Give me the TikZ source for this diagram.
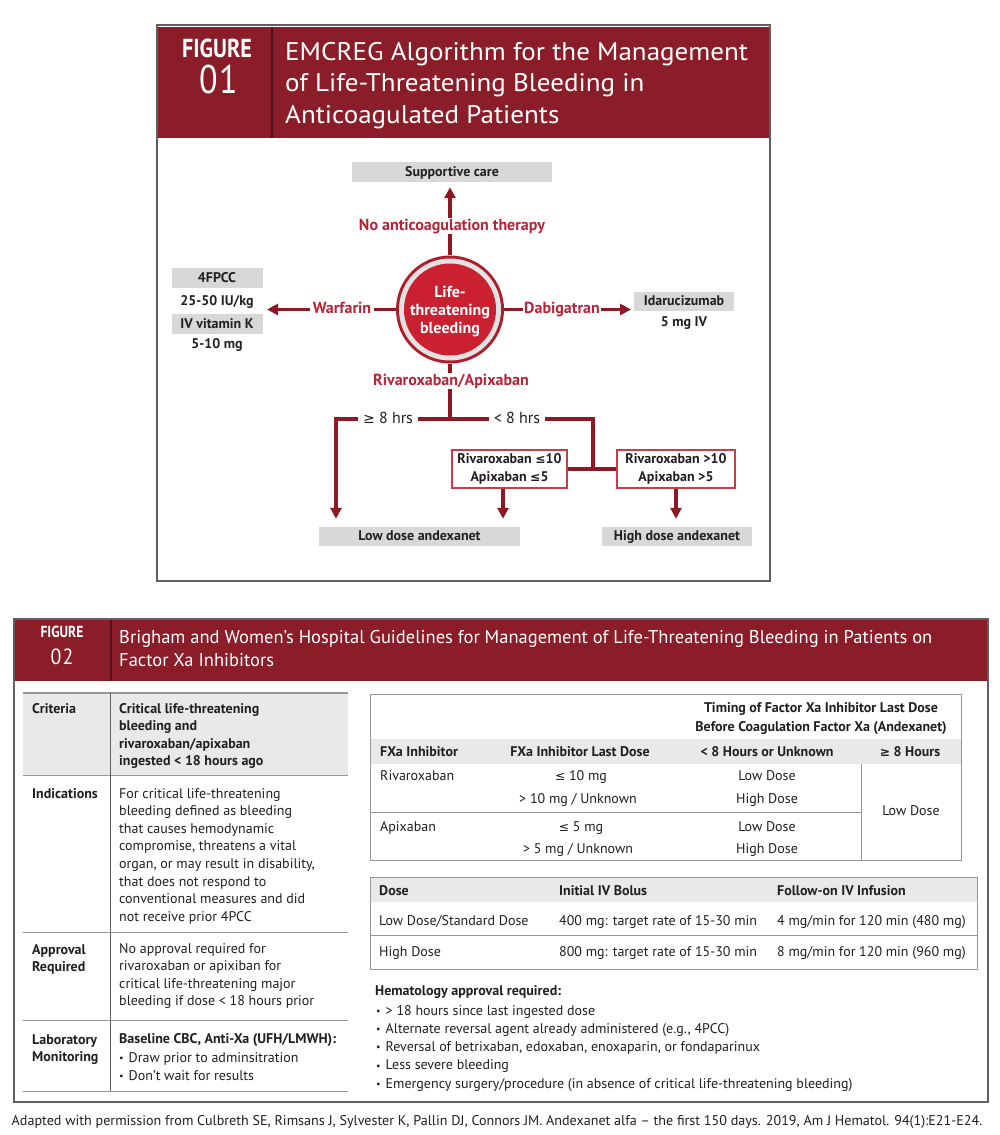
\documentclass[tikz,border=0pt]{standalone}
\usepackage{graphicx}
\usepackage{fontspec}
\setmainfont{PT Sans}
\newfontfamily\dvs[Scale=0.88]{DejaVu Sans}
\newcommand\lesym{{\dvs ≤}}
\newcommand\gesym{{\dvs ≥}}
\newcommand\fsz[1]{\fontsize{#1}{#1}\selectfont}
\newcommand\sx[2]{\scalebox{#1}[1]{#2}}
\newcommand\bul{{\fsz{10}\raisebox{0.8pt}{•}}\hspace{5pt}}
\usetikzlibrary{arrows.meta}
\definecolor{hdr}{RGB}{139,29,40}
\definecolor{hdrdiv}{RGB}{80,18,24}
\definecolor{circred}{RGB}{203,32,48}
\definecolor{ringred}{RGB}{175,28,42}
\definecolor{ringgray}{RGB}{226,226,226}
\definecolor{labred}{RGB}{185,35,55}
\definecolor{arrc}{RGB}{140,25,35}
\definecolor{boxgray}{RGB}{216,216,216}
\definecolor{txt}{RGB}{35,31,32}
\definecolor{framec}{RGB}{95,95,95}
\definecolor{rulec}{RGB}{150,150,150}
\definecolor{hdgray}{RGB}{233,233,233}
\definecolor{boxred}{RGB}{205,60,70}
\tikzset{
  ln/.style={anchor=base west, inner sep=0, text=txt, font=\fsz{14}},
  lnb/.style={ln, font=\fsz{14}\bfseries},
  lnc/.style={anchor=base, inner sep=0, text=txt, font=\fsz{14}},
  lncb/.style={lnc, font=\fsz{14}\bfseries},
  gbox/.style={fill=boxgray, inner sep=0, text=txt, font=\fsz{14}\bfseries, text height=0.86em, text depth=0em},
  rlab/.style={fill=white, text=labred, font=\fsz{16}\bfseries, inner xsep=3, inner ysep=4, text height=0.84em, text depth=0em},
  klab/.style={fill=white, text=txt, font=\fsz{16}, inner xsep=5, inner ysep=4, text height=0.84em, text depth=0em},
  conn/.style={draw=arrc, line width=3.6},
  arr/.style={conn, -{Triangle[length=11pt,width=11pt]}},
  rbox/.style={draw=boxred, line width=1.2, fill=white, align=center, text=txt, font=\fontsize{14}{18}\selectfont\bfseries, inner sep=0},
  rule/.style={draw=rulec, line width=1},
}
\newcommand\tlines[6]{\foreach \t [count=\i] in {#6} {\node[#1] (#2\i) at (#3,{#4+#5*(\i-1)}) {\t};}}
\begin{document}
\begin{tikzpicture}[x=1pt,y=-1pt]
\useasboundingbox (0,0) rectangle (1000,1135);
\fill[white] (0,0) rectangle (1000,1135);

% ================= FIGURE 01 =================
\draw[framec, line width=1.2] (157,25) rectangle (770,581);
\fill[hdr] (158,27) rectangle (769,138);
\draw[hdrdiv, line width=2] (272,27) -- (272,138);
\node[anchor=base, inner sep=0, text=white, font=\fsz{26}\bfseries] (f1a) at (217,57) {\sx{0.85}{FIGURE}};
\node[anchor=base, inner sep=0, text=white, font=\fsz{40}] (f1b) at (219,93) {\sx{0.85}{0\kern2pt1}};
\tlines{anchor=base west, inner sep=0, text=white, font=\fsz{25.5}}{t1l}{285}{60}{31.7}{{\sx{1.06}{EMCREG Algorithm for the Management}},{\sx{1.06}{of Life-Threatening Bleeding in}},{\sx{1.06}{Anticoagulated Patients}}}

\node[gbox, minimum width=200, minimum height=20] (sup) at (452,172) {Supportive care};

\node[circle, fill=ringred, minimum size=108, inner sep=0] (lt) at (450,309.5) {};
\fill[ringgray] (lt.center) circle (51);
\fill[circred] (lt.center) circle (46);
\node[align=center, text=white, font=\fontsize{16}{18}\selectfont\bfseries, inner sep=0] (ltt) at (450,312) {Life-\\threatening\\bleeding};

% up
\draw[arr, shorten >=5pt] (lt.north) -- (lt.north |- sup.south);
\node[rlab] (noac) at (452,226) {No anticoagulation therapy};

% left
\coordinate (wtip) at (267,309.5);
\draw[arr] (lt.west) -- (wtip);
\node[rlab] (warf) at (342,309.5) {Warfarin};
\node[gbox, minimum width=91, minimum height=20] (fpcc) at (217,278) {4FPCC};
\node[lncb] (fpccd) at (217,305) {25-50 IU/kg};
\node[gbox, minimum width=91, minimum height=20] (vitk) at (217,324) {IV vitamin K};
\node[lncb] (vitkd) at (217,348) {5-10 mg};

% right
\coordinate (dtip) at (631,309.5);
\draw[arr] (lt.east) -- (dtip);
\node[rlab, inner xsep=1.5] (dabi) at (562,309.5) {Dabigatran};
\node[gbox, minimum width=100, minimum height=19] (idar) at (684,301.5) {Idarucizumab};
\node[lncb] (idard) at (684,326) {5 mg IV};

% bottom
\coordinate (rj) at (450,419);
\draw[conn] (lt.south) -- (rj);
\node[rlab] (riva) at (451,381) {Rivaroxaban/Apixaban};

\node[rbox, minimum width=115, minimum height=38] (rle) at (509.5,469) {Rivaroxaban \lesym10\\Apixaban \lesym5};
\node[rbox, minimum width=118, minimum height=38] (rgt) at (676,469) {Rivaroxaban >10\\Apixaban >5};
\node[gbox, minimum width=201, minimum height=19] (low) at (419.5,536.5) {Low dose andexanet};
\node[gbox, minimum width=150, minimum height=19] (high) at (677,536.5) {High dose andexanet};

\coordinate (lc) at (336,419);
\coordinate (rc) at (593,419);
\coordinate (rm) at (593,469);
\draw[conn] (rle.east) -- (rgt.west);
\draw[arr, line join=miter, shorten >=8pt] (rm) -- (rc) -- (lc) -- (lc |- low.north);
\node[klab] (ge8) at (388,419) {\gesym\ 8 hrs};
\node[klab] (lt8) at (517,419) {< 8 hrs};
\draw[arr, shorten >=8pt] ([xshift=-6.5pt]rle.south) -- ([xshift=-6.5pt]rle.south |- low.north);
\draw[arr, shorten >=8pt] (rgt.south) -- (rgt.south |- high.north);

% ================= FIGURE 02 =================
\draw[framec, line width=1.2] (14,619) rectangle (988,1102);
\fill[hdr] (15,620) rectangle (987,681);
\draw[hdrdiv, line width=1.5] (111,620) -- (111,681);
\node[anchor=base, inner sep=0, text=white, font=\fsz{16}\bfseries] (f2a) at (62,637.5) {\sx{0.85}{FIGURE}};
\node[anchor=base, inner sep=0, text=white, font=\fsz{22}] (f2b) at (62,664) {\sx{0.9}{0\kern1.5pt2}};
\tlines{anchor=base west, inner sep=0, text=white, font=\fsz{18.5}}{t2l}{119}{643}{23}{{Brigham and Women’s Hospital Guidelines for Management of Life-Threatening Bleeding in Patients on},{Factor Xa Inhibitors}}

% left table
\fill[hdgray] (23,693) rectangle (348,775);
\draw[rulec, line width=1.6] (23,693) -- (348,693);
\draw[rule] (23,775) -- (348,775);
\draw[rule] (23,932) -- (348,932);
\draw[rule] (23,1020) -- (348,1020);
\draw[rule] (23,1091) -- (348,1091);
\draw[draw=framec, line width=1] (110,693) -- (110,1091);

\node[lnb] (crit) at (32,713) {Criteria};
\tlines{lnb}{critt}{119}{713}{17.6}{{Critical life-threatening},{bleeding and},{rivaroxaban/apixaban},{ingested < 18 hours ago}}
\node[lnb] (ind) at (32,798) {Indications};
\tlines{ln}{indt}{119}{798}{17.6}{{For critical life-threatening},{bleeding defined as bleeding},{that causes hemodynamic},{compromise, threatens a vital},{organ, or may result in disability,},{that does not respond to},{conventional measures and did},{not receive prior 4PCC}}
\tlines{lnb}{appr}{32}{954}{17.6}{{Approval},{Required}}
\tlines{ln}{apprt}{119}{953}{17.6}{{No approval required for},{rivaroxaban or apixiban for},{critical life-threatening major},{bleeding if dose < 18 hours prior}}
\tlines{lnb}{lab}{32}{1044}{17.6}{{Laboratory},{Monitoring}}
\node[lnb] (labt1) at (119,1043) {Baseline CBC, Anti-Xa (UFH/LMWH):};
\tlines{ln}{labt}{119}{1062}{18}{{\bul Draw prior to adminsitration},{\bul Don’t wait for results}}

% right table 1
\fill[hdgray] (370,739) rectangle (961,764);
\draw[rule] (370,694) rectangle (961,860);
\draw[rule] (370,812) -- (861,812);
\draw[rule] (861,764) -- (861,860);
\node[lncb] (tim1) at (821,712) {Timing of Factor Xa Inhibitor Last Dose};
\node[lncb] (tim2) at (821,731) {Before Coagulation Factor Xa (Andexanet)};
\node[lnb] (h1) at (380,756) {FXa Inhibitor};
\node[lncb] (h2) at (580,756) {FXa Inhibitor Last Dose};
\node[lncb] (h3) at (767,756) {< 8 Hours or Unknown};
\node[lncb] (h4) at (910,756) {\gesym\ 8 Hours};
\node[ln] (r1a) at (380,780) {Rivaroxaban};
\node[lnc] (r1b) at (581,780) {\lesym\ 10 mg};
\node[lnc] (r1c) at (767,780) {Low Dose};
\node[lnc] (r2b) at (578,803) {> 10 mg / Unknown};
\node[lnc] (r2c) at (767,803) {High Dose};
\node[ln] (r3a) at (380,831) {Apixaban};
\node[lnc] (r3b) at (581,831) {\lesym\ 5 mg};
\node[lnc] (r3c) at (767,831) {Low Dose};
\node[lnc] (r4b) at (578,853) {> 5 mg / Unknown};
\node[lnc] (r4c) at (767,853) {High Dose};
\node[lnc] (r5) at (911,815) {Low Dose};

% right table 2
\fill[hdgray] (370,877) rectangle (977,902);
\draw[rule] (370,877) rectangle (977,969);
\draw[rule] (370,935) -- (977,935);
\node[lnb] (d1) at (379,895) {Dose};
\node[lnb] (d2) at (559,895) {Initial IV Bolus};
\node[lnb] (d3) at (777,895) {Follow-on IV Infusion};
\node[ln] (e1) at (379,925) {Low Dose/Standard Dose};
\node[ln] (e2) at (559,925) {400 mg: target rate of 15-30 min};
\node[ln] (e3) at (777,925) {4 mg/min for 120 min (480 mg)};
\node[ln] (g1) at (379,956) {High Dose};
\node[ln] (g2) at (559,956) {800 mg: target rate of 15-30 min};
\node[ln] (g3) at (777,956) {8 mg/min for 120 min (960 mg)};

% hematology
\node[lnb] (hem) at (375,995) {Hematology approval required:};
\tlines{ln}{hemt}{376}{1015}{18.3}{{\bul > 18 hours since last ingested dose},{\bul Alternate reversal agent already administered (e.g., 4PCC)},{\bul Reversal of betrixaban, edoxaban, enoxaparin, or fondaparinux},{\bul Less severe bleeding},{\bul Emergency surgery/procedure (in absence of critical life-threatening bleeding)}}

% caption
\node[lnc, font=\fsz{14.1}] (cap) at (497,1125) {Adapted with permission from Culbreth SE, Rimsans J, Sylvester K, Pallin DJ, Connors JM. Andexanet alfa – the first 150 days. 2019, Am J Hematol. 94(1):E21-E24.};
\end{tikzpicture}
\end{document}
